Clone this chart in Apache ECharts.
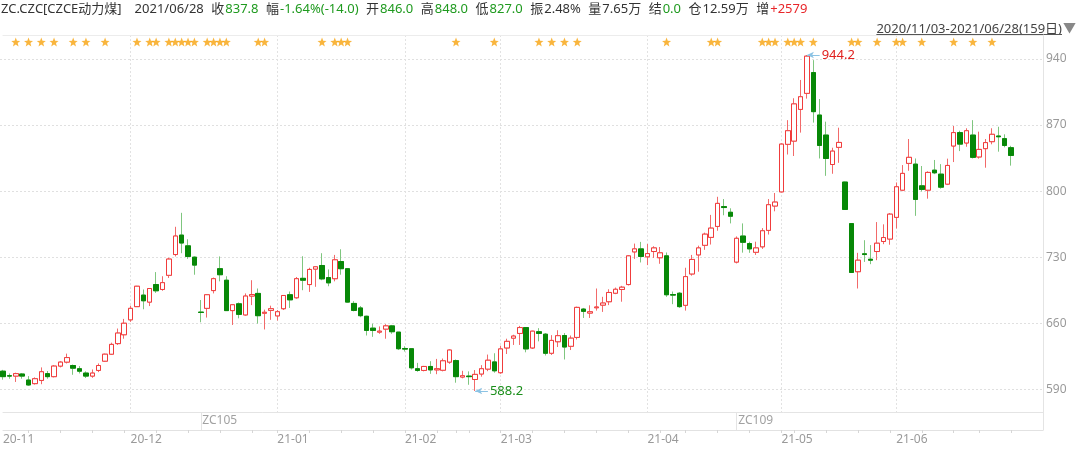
<!DOCTYPE html>
<html><head><meta charset="utf-8">
<script src="https://cdn.jsdelivr.net/npm/echarts@6/dist/echarts.min.js"></script>
<style>html,body{margin:0;padding:0;background:#fff}#c{width:1080px;height:449px}</style>
</head><body><div id="c"></div>
<script>
// ---------------- data ----------------
const tradingDays = [
  ['2020/11', [3,4,5,6,9,10,11,12,13,16,17,18,19,20,23,24,25,26,27,30]],
  ['2020/12', [1,2,3,4,7,8,9,10,11,14,15,16,17,18,21,22,23,24,25,28,29,30,31]],
  ['2021/01', [4,5,6,7,8,11,12,13,14,15,18,19,20,21,22,25,26,27,28,29]],
  ['2021/02', [1,2,3,4,5,8,9,10,18,19,22,23,24,25,26]],
  ['2021/03', [1,2,3,4,5,8,9,10,11,12,15,16,17,18,19,22,23,24,25,26,29,30,31]],
  ['2021/04', [1,2,6,7,8,9,12,13,14,15,16,19,20,21,22,23,26,27,28,29,30]],
  ['2021/05', [6,7,10,11,12,13,14,17,18,19,20,21,24,25,26,27,28,31]],
  ['2021/06', [1,2,3,4,7,8,9,10,11,15,16,17,18,21,22,23,24,25,28]]
];
const dates = [];
tradingDays.forEach(([m, ds]) => ds.forEach(d => dates.push(m + '/' + String(d).padStart(2, '0'))));

const openV = [
  609.2,604.4,604.0,606.2,599.8,596.0,599.4,606.6,603.4,614.6,
  618.8,615.2,611.8,607.2,604.0,610.0,619.8,627.2,638.4,647.8,
  663.6,677.6,689.8,682.4,701.0,695.8,710.8,732.8,753.4,742.0,
  730.0,671.8,675.8,694.6,717.8,705.6,673.4,680.6,668.8,688.8,
  691.6,670.6,673.6,667.8,675.4,690.2,687.0,707.6,701.0,717.4,
  721.2,708.4,707.2,725.4,717.8,681.0,676.2,667.4,654.8,650.6,
  653.8,657.2,650.6,633.2,633.0,611.8,610.0,614.2,610.6,610.2,
  618.8,620.4,603.0,604.0,600.4,606.2,611.4,619.0,607.6,633.8,
  644.2,649.2,655.4,633.8,651.0,648.4,628.2,640.4,647.0,635.6,
  645.0,675.0,670.8,676.4,679.2,682.8,691.8,695.8,701.0,735.6,
  738.8,730.4,736.0,729.4,731.4,690.4,691.8,679.0,712.2,732.4,
  742.6,751.0,762.6,783.6,777.6,724.8,752.4,744.4,735.2,741.0,
  758.4,784.2,799.2,849.6,853.0,886.6,903.6,925.6,880.6,859.4,
  828.2,846.4,809.6,765.6,714.6,733.6,727.8,736.0,746.6,749.2,
  772.2,801.0,829.4,828.6,805.6,801.0,822.2,818.0,807.4,847.8,
  862.0,851.0,859.4,836.2,845.0,852.4,858.4,855.6,846.0
];
const closeV = [
  603.4,604.0,606.6,604.0,594.6,601.2,608.6,603.4,614.6,618.8,
  623.6,612.4,609.2,604.0,607.2,615.2,627.2,637.6,649.6,660.0,
  675.8,699.2,683.8,696.8,694.4,703.0,728.0,752.4,745.0,730.8,
  721.6,671.4,690.2,707.2,711.4,673.4,679.6,669.4,688.8,690.4,
  668.0,671.6,675.4,672.2,689.4,684.8,707.2,705.6,717.0,719.8,
  707.0,702.8,727.2,717.8,682.4,673.6,668.0,652.4,652.4,651.6,
  657.2,651.0,633.0,632.6,612.8,610.0,614.2,610.6,611.8,620.2,
  631.6,603.4,604.4,603.4,605.8,611.8,620.8,609.6,632.8,640.8,
  646.4,655.4,632.8,651.6,649.2,628.2,641.8,646.8,634.8,644.2,
  676.8,672.6,672.2,677.2,681.4,692.6,696.0,698.2,731.4,738.8,
  730.8,733.8,739.8,734.6,690.2,689.8,677.6,709.4,727.6,739.8,
  754.4,760.8,787.0,782.6,773.4,750.0,745.8,738.8,739.8,758.0,
  785.6,788.4,849.8,864.0,892.4,900.0,943.0,884.2,848.4,834.6,
  842.4,851.6,780.6,713.8,726.8,732.8,726.8,744.8,750.8,775.6,
  804.6,818.8,835.8,791.2,801.8,819.8,819.4,804.2,827.2,862.0,
  849.8,864.0,835.8,844.2,851.4,860.2,857.6,848.4,837.8
];
const lowV = [
  600.2,601.2,597.8,601.2,593.6,595.0,595.4,601.2,602.6,613.2,
  617.4,605.4,606.8,602.0,602.2,608.2,619.0,626.4,637.0,643.6,
  661.4,677.2,674.8,678.2,692.2,694.4,708.0,730.8,734.2,728.2,
  711.4,661.0,666.0,691.6,704.4,673.0,658.2,665.2,668.0,679.2,
  659.6,653.4,663.6,662.8,674.0,676.2,686.0,695.0,693.2,698.6,
  705.6,699.2,704.4,711.4,682.0,672.6,666.4,647.0,645.6,648.8,
  643.6,648.8,631.6,630.0,611.0,608.6,609.0,606.4,606.0,609.0,
  617.0,597.0,601.6,594.8,588.2,603.4,609.2,607.6,606.4,627.4,
  637.0,637.0,629.2,632.8,640.8,625.8,626.4,634.8,621.6,631.6,
  642.8,665.6,665.6,673.4,672.0,679.2,690.8,682.8,700.0,728.2,
  724.4,721.6,729.2,723.0,688.0,680.2,676.2,673.4,710.4,714.6,
  737.8,743.4,758.0,774.4,765.8,723.4,734.8,734.6,732.4,738.8,
  754.0,778.6,798.6,838.8,837.2,862.0,898.0,872.6,834.6,816.2,
  818.4,830.0,780.0,713.8,696.8,725.0,722.6,726.8,743.8,743.2,
  760.4,800.0,821.6,773.8,799.6,792.0,818.0,802.6,806.4,830.8,
  842.4,847.0,834.6,834.4,824.8,849.6,841.8,846.4,827.0
];
const highV = [
  610.6,606.8,607.6,607.2,604.0,602.6,613.2,609.4,615.6,619.8,
  627.8,616.2,614.6,609.0,611.0,617.4,627.8,639.4,654.4,664.6,
  678.6,699.6,695.8,697.2,714.2,709.8,729.4,762.2,777.0,749.0,
  730.8,684.6,690.8,708.4,730.8,709.8,679.6,682.0,691.6,705.6,
  696.8,674.4,678.6,674.0,689.4,693.6,709.0,731.0,718.8,720.2,
  734.2,717.0,732.4,738.4,717.8,683.4,678.2,668.0,659.6,656.6,
  659.0,658.2,650.6,635.6,633.0,618.0,614.8,619.8,622.2,622.6,
  632.4,621.6,609.6,609.0,610.4,615.6,626.8,628.2,636.2,643.6,
  647.8,657.2,655.4,652.0,654.8,649.6,647.4,652.6,649.6,647.0,
  677.6,676.2,679.0,696.8,688.0,696.0,697.8,699.6,732.2,744.4,
  746.2,744.0,741.6,740.8,735.0,693.6,693.0,718.8,732.4,742.2,
  756.0,774.8,794.0,791.6,781.8,752.0,765.8,746.4,746.4,760.8,
  791.6,798.0,850.6,875.2,898.4,917.8,944.2,938.8,897.6,873.6,
  846.0,867.2,810.0,765.6,734.6,748.0,742.8,767.2,764.8,776.8,
  809.2,827.6,855.2,834.6,826.6,821.0,833.0,828.6,834.4,869.0,
  864.0,866.6,875.2,863.0,855.2,866.6,868.2,860.2,848.0
];
// event stars (bar indices)
const starIdx = [2,4,6,8,11,13,16,21,23,24,26,27,28,29,30,32,33,34,35,40,41,50,52,53,54,
  71,77,84,86,88,90,104,111,112,119,120,121,123,124,125,127,133,134,137,140,141,144,149,152,155];
// contract segments (first bar index of each)
const contracts = [{name: 'ZC105', start: 31}, {name: 'ZC109', start: 115}];
// right axis tick labels
const yTicks = [590, 660, 730, 800, 870, 940];
// header
const headerName = 'ZC.CZC[CZCE动力煤]';
const headerStats = [
  ['收', '837.8', 'dn'], ['幅', '-1.64%(-14.0)', 'dn'], ['开', '846.0', 'dn'],
  ['高', '848.0', 'dn'], ['低', '827.0', 'dn'], ['振', '2.48%', 'fl'],
  ['量', '7.65万', 'fl'], ['结', '0.0', 'dn'], ['仓', '12.59万', 'fl'], ['增', '+2579', 'up']
];

// ---------------- layout ----------------
const FONT = '"Noto Sans","Noto Sans CJK SC",sans-serif';
const LEFT = 3, RIGHT = 37, TOP = 35, MAIN_BOTTOM = 412, AXIS_Y = 430;
const TICK_TOP_Y = 59, TICK_BOT_Y = 389.3;
const PAD = 5;
const cats = dates.concat(Array.from({length: PAD}, (_, k) => '~' + k));
const ppu = (TICK_BOT_Y - TICK_TOP_Y) / (yTicks[yTicks.length - 1] - yTicks[0]);
const yMaxA = yTicks[yTicks.length - 1] + (TICK_TOP_Y - TOP) / ppu;
const yMinA = yTicks[0] - (MAIN_BOTTOM - TICK_BOT_Y) / ppu;

const monthStart = new Set();
dates.forEach((d, i) => { if (i === 0 || d.slice(0, 7) !== dates[i - 1].slice(0, 7)) monthStart.add(i); });
const weekStart = new Set();
const toDate = s => new Date(s.replace(/\//g, '-') + 'T00:00:00Z');
dates.forEach((d, i) => {
  if (i === 0) return;
  const a = toDate(dates[i - 1]), b = toDate(d);
  if (b.getUTCDay() <= a.getUTCDay() || (b - a) >= 7 * 864e5) weekStart.add(i);
});
const contractStart = new Set(contracts.map(c => c.start));

const ohlc = dates.map((d, i) => [openV[i], closeV[i], lowV[i], highV[i]]);
const bodies = dates.map((d, i) => [openV[i], closeV[i], Math.min(openV[i], closeV[i]), Math.max(openV[i], closeV[i])]);
const hiVal = Math.max(...highV), hiIdx = highV.indexOf(hiVal);
const loVal = Math.min(...lowV), loIdx = lowV.indexOf(loVal);

const headerText = `{n|${headerName}}{d|${dates[dates.length - 1]}}` +
  headerStats.map(([l, v, c]) => `{l|${l}}{${c}|${v}}`).join('');
const rangeText = `${dates[0]}-${dates[dates.length - 1]}(${dates.length}日)`;
const mctx = document.createElement('canvas').getContext('2d');
mctx.font = '13px ' + FONT;
const rangeW = mctx.measureText(rangeText).width;
const RANGE_RIGHT = 1062;

const xBase = (gridIndex, extra) => Object.assign({
  type: 'category', gridIndex, data: cats, boundaryGap: false,
  axisLine: {show: false, onZero: false}, axisTick: {show: false},
  axisLabel: {show: false}, splitLine: {show: false}
}, extra);

const STAR = 'path://M12,1 L14.9,8.6 L23,9 L16.7,14.1 L18.8,22 L12,17.5 L5.2,22 L7.3,14.1 L1,9 L9.1,8.6 Z';
const rs = (color, pad) => ({color, fontSize: 13, fontWeight: 'normal', fontFamily: FONT, padding: [0, 0, 0, pad]});

const option = {
  animation: false,
  backgroundColor: '#ffffff',
  textStyle: {fontFamily: FONT},
  title: {
    left: 1, top: 1, padding: 0,
    text: headerText,
    textStyle: {
      fontSize: 13, lineHeight: 17, fontWeight: 'normal', fontFamily: FONT, color: '#333',
      rich: {
        n: rs('#333', 0),
        d: rs('#333', 13),
        l: rs('#333', 7.5),
        dn: rs('#1f9a1f', 1),
        fl: rs('#333', 1),
        up: rs('#e8262a', 1)
      }
    }
  },
  graphic: [
    {type: 'text', x: RANGE_RIGHT, y: 29, silent: true,
     style: {text: rangeText, font: '13px ' + FONT, fill: '#444', align: 'right', verticalAlign: 'middle',
             textAlign: 'right', textVerticalAlign: 'middle'}},
    {type: 'line', silent: true,
     shape: {x1: RANGE_RIGHT - rangeW, y1: 34.5, x2: RANGE_RIGHT, y2: 34.5},
     style: {stroke: '#555', lineWidth: 1}},
    {type: 'text', x: RANGE_RIGHT + 1, y: 28.5, silent: true,
     style: {text: '▼', font: '13px ' + FONT, fill: '#888', align: 'left', verticalAlign: 'middle',
             textAlign: 'left', textVerticalAlign: 'middle'}}
  ],
  grid: [
    {left: LEFT, right: RIGHT, top: TOP, height: MAIN_BOTTOM - TOP, outerBoundsMode: 'none'},
    {left: 0, right: RIGHT, top: TICK_TOP_Y, height: TICK_BOT_Y - TICK_TOP_Y, outerBoundsMode: 'none'},
    {left: LEFT, right: RIGHT, top: TOP, height: 14, outerBoundsMode: 'none'},
    {left: LEFT, right: RIGHT, top: MAIN_BOTTOM, height: AXIS_Y - MAIN_BOTTOM, outerBoundsMode: 'none'}
  ],
  xAxis: [
    xBase(0, {
      axisLine: {show: true, onZero: false, lineStyle: {color: '#e4e4e4'}},
      splitLine: {show: true, interval: i => i > 0 && monthStart.has(i),
                  lineStyle: {color: '#e2e2e2', type: [2, 2]}}
    }),
    {type: 'value', gridIndex: 1, show: false},
    xBase(2, {position: 'top', axisLine: {show: true, onZero: false, lineStyle: {color: '#ececec'}}}),
    xBase(3, {
      position: 'bottom',
      axisLine: {show: true, onZero: false, lineStyle: {color: '#e2e2e2'}},
      axisTick: {show: true, interval: i => weekStart.has(i), length: 3, lineStyle: {color: '#d6d6d6'}},
      axisLabel: {show: true, interval: i => monthStart.has(i), align: 'left', margin: 4,
                  color: '#9a9a9a', fontSize: 12, fontFamily: FONT,
                  formatter: v => v.slice(2, 4) + '-' + v.slice(5, 7)},
      splitLine: {show: true, interval: i => contractStart.has(i), lineStyle: {color: '#e4e4e4'}}
    })
  ],
  yAxis: [
    {type: 'value', gridIndex: 0, min: yMinA, max: yMaxA, position: 'right',
     axisLine: {show: true, lineStyle: {color: '#e4e4e4'}}, axisTick: {show: false},
     axisLabel: {show: false}, splitLine: {show: false}},
    {type: 'value', gridIndex: 1, min: yTicks[0], max: yTicks[yTicks.length - 1],
     interval: yTicks[1] - yTicks[0], position: 'right',
     axisLine: {show: false}, axisTick: {show: false},
     axisLabel: {color: '#9a9a9a', fontSize: 12, margin: 3, fontFamily: FONT},
     splitLine: {show: true, lineStyle: {color: '#e0e0e0', type: [2, 2]}}},
    {type: 'value', gridIndex: 2, min: -1, max: 1, show: false},
    {type: 'value', gridIndex: 3, min: 0, max: 1, position: 'right',
     axisLine: {show: true, lineStyle: {color: '#e4e4e4'}}, axisTick: {show: false},
     axisLabel: {show: false}, splitLine: {show: false}}
  ],
  series: [
    { // wicks (full candle, lighter stroke)
      type: 'candlestick', xAxisIndex: 0, yAxisIndex: 0, silent: true, clip: false,
      barWidth: 5, data: ohlc,
      itemStyle: {color: '#ffffff', color0: '#0a8a0a', borderColor: '#f26a6a', borderColor0: '#7fc67f', borderWidth: 1}
    },
    { // bodies
      type: 'candlestick', xAxisIndex: 0, yAxisIndex: 0, silent: true, clip: false,
      barWidth: 5, data: bodies,
      itemStyle: {color: '#ffffff', color0: '#078807', borderColor: '#f03c3c', borderColor0: '#078807', borderWidth: 1},
      markLine: {
        silent: true, animation: false, symbol: ['arrow', 'none'], symbolSize: [5, 7],
        lineStyle: {color: '#8cc3e4', width: 1, type: 'solid'},
        label: {show: true, position: 'end', distance: 2, fontSize: 13, fontFamily: FONT},
        emphasis: {disabled: true},
        data: [
          [{coord: [hiIdx, hiVal], label: {color: '#e0201e', formatter: hiVal.toFixed(1)}}, {coord: [hiIdx + 2, hiVal]}],
          [{coord: [loIdx, loVal], label: {color: '#1c8f1c', formatter: loVal.toFixed(1)}}, {coord: [loIdx + 2, loVal]}]
        ]
      }
    },
    { // event stars
      type: 'scatter', xAxisIndex: 2, yAxisIndex: 2, silent: true,
      symbol: STAR, symbolSize: 9,
      itemStyle: {color: '#f8a30c'},
      data: starIdx.map(i => [i, 0])
    },
    { // contract labels
      type: 'scatter', xAxisIndex: 3, yAxisIndex: 3, silent: true,
      symbolSize: 1, itemStyle: {color: 'rgba(0,0,0,0)'},
      label: {show: true, position: 'right', distance: 1, formatter: '{b}', color: '#8a8a8a', fontSize: 12, fontFamily: FONT},
      data: contracts.map(c => ({name: c.name, value: [c.start, 0.5]}))
    }
  ]
};

const chart = echarts.init(document.getElementById('c'), null, {renderer: 'canvas'});
chart.setOption(option);
</script>
</body></html>
